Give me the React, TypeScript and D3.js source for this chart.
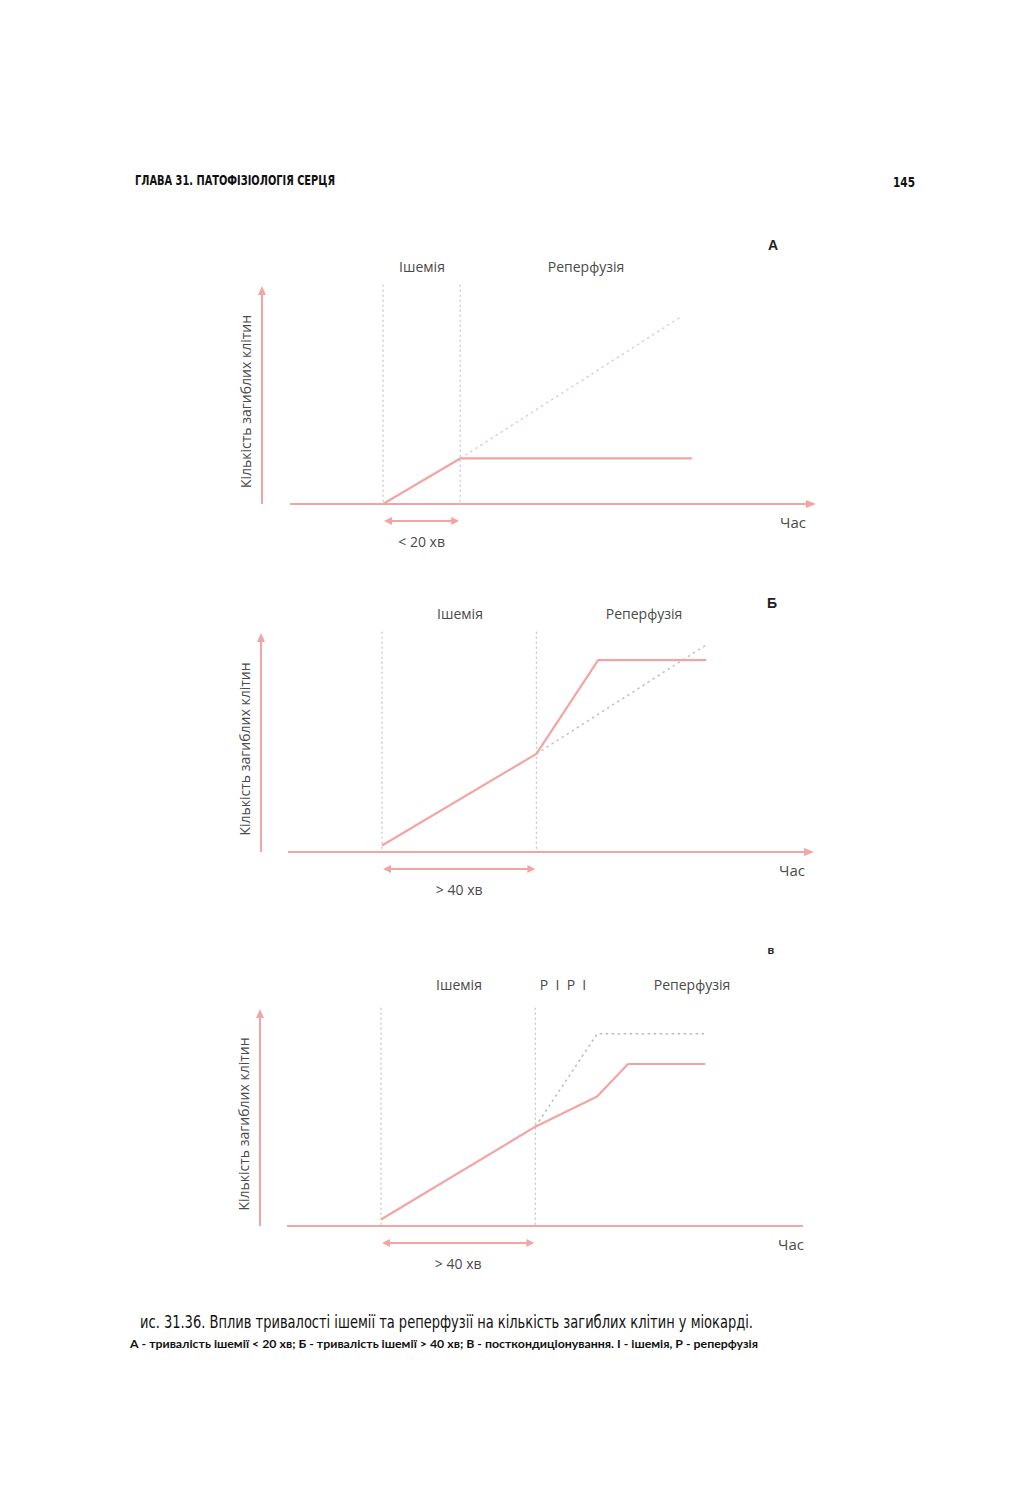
import * as d3 from 'd3'

// minutes of ischemia shown by the double arrow
const ischemiaMin = [20, 40, 40]
const durationLabels = ['< 20 хв', '> 40 хв', '> 40 хв']
const panelLetters = ['А', 'Б', 'в']

// solid curve: dead cells with reperfusion
const timeA = [0, 20, 80]
const deadA = [0, 21, 21]
const timeB = [0, 40, 56, 84]
const deadB = [3, 45, 88, 88]
const timeC = [0, 40, 56, 64, 84]
const deadC = [3, 46, 60, 75, 75]

// dotted curve: course without intervention
const refTimeA = [20, 77]
const refDeadA = [21, 86]
const refTimeB = [40, 84]
const refDeadB = [45, 95]
const refTimeC = [40, 56, 84]
const refDeadC = [46, 89, 89]

const PINK = '#f3a4a4'
const GREY_TXT = '#4a4a4a'
const CHART_FONT = '"Open Sans", "Noto Sans", sans-serif'

type Panel = {
  time: number[]
  dead: number[]
  refTime: number[]
  refDead: number[]
  axisY: number
  topY: number
  axisX0: number
  axisX1: number
  yAxisX: number
  t0X: number
  xArrow: boolean
  chasX: number
  refColor: string
  letterPos: [number, number]
  letterSize: number
  phaseLabels: { text: string; x: number }[]
  phaseY: number
}

const panels: Panel[] = [
  {
    time: timeA, dead: deadA, refTime: refTimeA, refDead: refDeadA,
    axisY: 504, topY: 287, axisX0: 290, axisX1: 815, yAxisX: 262, t0X: 383,
    xArrow: true, chasX: 793, refColor: '#e6cfcf', letterPos: [773, 250], letterSize: 14,
    phaseLabels: [{ text: 'Ішемія', x: 422 }, { text: 'Реперфузія', x: 586 }], phaseY: 272,
  },
  {
    time: timeB, dead: deadB, refTime: refTimeB, refDead: refDeadB,
    axisY: 852, topY: 634, axisX0: 288, axisX1: 813, yAxisX: 261, t0X: 382,
    xArrow: true, chasX: 792, refColor: '#c4c4c4', letterPos: [772, 608], letterSize: 14,
    phaseLabels: [{ text: 'Ішемія', x: 460 }, { text: 'Реперфузія', x: 644 }], phaseY: 619,
  },
  {
    time: timeC, dead: deadC, refTime: refTimeC, refDead: refDeadC,
    axisY: 1226, topY: 1010, axisX0: 287, axisX1: 803, yAxisX: 260, t0X: 381,
    xArrow: false, chasX: 791, refColor: '#bdbdbd', letterPos: [771, 954], letterSize: 11,
    phaseLabels: [{ text: 'Ішемія', x: 459 }, { text: 'P  I  P  I', x: 563 }, { text: 'Реперфузія', x: 692 }], phaseY: 990,
  },
]

function ChartPanel({ p, i }: { p: Panel; i: number }) {
  const x = d3.scaleLinear().domain([0, 100]).range([p.t0X, p.t0X + 386])
  const y = d3.scaleLinear().domain([0, 100]).range([p.axisY, p.topY])
  const line = d3.line<[number, number]>().x(d => x(d[0])).y(d => y(d[1]))
  const solid = line(p.time.map((t, k) => [t, p.dead[k]] as [number, number])) || ''
  const ref = line(p.refTime.map((t, k) => [t, p.refDead[k]] as [number, number])) || ''
  const iEnd = x(ischemiaMin[i])
  const arrowY = p.axisY + 17
  const yMid = (p.axisY + p.topY) / 2 + 6

  return (
    <g>
      <text x={p.letterPos[0]} y={p.letterPos[1]} fontFamily='"Liberation Sans", Arial, sans-serif'
        fontWeight="bold" fontSize={p.letterSize} fill="#222" textAnchor="middle">{panelLetters[i]}</text>
      {p.phaseLabels.map(l => (
        <text key={l.text} x={l.x} y={p.phaseY} fontFamily={CHART_FONT} fontSize={14}
          fill={GREY_TXT} textAnchor="middle" style={{ whiteSpace: 'pre' }}>{l.text}</text>
      ))}
      {/* phase separators */}
      {[x(0), iEnd].map((vx, k) => (
        <line key={k} x1={vx} x2={vx} y1={y(101)} y2={p.axisY} stroke="#c3c3cc"
          strokeWidth={1.2} strokeDasharray="2,3" />
      ))}
      {/* axes */}
      <line x1={p.yAxisX} x2={p.yAxisX} y1={p.axisY} y2={p.topY + 6} stroke={PINK} strokeWidth={2} />
      <path d={`M${p.yAxisX - 4},${p.topY + 8} L${p.yAxisX},${p.topY - 1} L${p.yAxisX + 4},${p.topY + 8} Z`} fill={PINK} />
      <line x1={p.axisX0} x2={p.xArrow ? p.axisX1 - 6 : p.axisX1} y1={p.axisY} y2={p.axisY} stroke={PINK} strokeWidth={2.2} />
      {p.xArrow && (
        <path d={`M${p.axisX1 - 9},${p.axisY - 4} L${p.axisX1 + 1},${p.axisY} L${p.axisX1 - 9},${p.axisY + 4} Z`} fill={PINK} />
      )}
      <text x={p.chasX} y={p.axisY + 24} fontFamily={CHART_FONT} fontSize={15}
        fill={GREY_TXT} textAnchor="middle">Час</text>
      <text transform={`translate(${p.yAxisX - 11},${yMid}) rotate(-90)`} fontFamily={CHART_FONT}
        fontSize={14} fill={GREY_TXT} textAnchor="middle">Кількість загиблих клітин</text>
      {/* curves */}
      <path d={ref} fill="none" stroke={p.refColor} strokeWidth={1.6} strokeDasharray="2.5,3.5" />
      <path d={solid} fill="none" stroke={PINK} strokeWidth={2.2} strokeLinejoin="round" />
      {/* duration arrow */}
      <line x1={x(0) + 6} x2={iEnd - 6} y1={arrowY} y2={arrowY} stroke={PINK} strokeWidth={2.2} />
      <path d={`M${x(0) + 9},${arrowY - 4} L${x(0) + 1},${arrowY} L${x(0) + 9},${arrowY + 4} Z`} fill={PINK} />
      <path d={`M${iEnd - 9},${arrowY - 4} L${iEnd - 1},${arrowY} L${iEnd - 9},${arrowY + 4} Z`} fill={PINK} />
      <text x={(x(0) + iEnd) / 2} y={arrowY + 26} fontFamily={CHART_FONT} fontSize={14}
        fill={GREY_TXT} textAnchor="middle">{durationLabels[i]}</text>
    </g>
  )
}

export default function App() {
  return (
    <svg width={1031} height={1500} style={{ position: 'absolute', left: 0, top: 0, background: '#fff' }}>
      <text x={135} y={185} fontFamily='"Liberation Sans Narrow", "DejaVu Sans Condensed", sans-serif'
        fontWeight="bold" fontSize={14} fill="#111" textLength={200} lengthAdjust="spacingAndGlyphs">
        ГЛАВА 31. ПАТОФІЗІОЛОГІЯ СЕРЦЯ
      </text>
      <text x={893} y={187} fontFamily='"Liberation Sans Narrow", "DejaVu Sans Condensed", sans-serif'
        fontWeight="bold" fontSize={14} fill="#111" textLength={22} lengthAdjust="spacingAndGlyphs">145</text>
      {panels.map((p, i) => <ChartPanel key={i} p={p} i={i} />)}
      <text x={140} y={1328} fontFamily='"Liberation Sans Narrow", "DejaVu Sans Condensed", sans-serif'
        fontSize={17} fill="#111" textLength={613} lengthAdjust="spacingAndGlyphs">
        ис. 31.36. Вплив тривалості ішемії та реперфузії на кількість загиблих клітин у міокарді.
      </text>
      <text x={130} y={1348} fontFamily='Lato, "Open Sans", sans-serif' fontWeight="bold"
        fontSize={11} fill="#111" textLength={628} lengthAdjust="spacingAndGlyphs">
        А - тривалість ішемії &lt; 20 хв; Б - тривалість ішемії &gt; 40 хв; В - посткондиціонування. І - ішемія, Р - реперфузія
      </text>
    </svg>
  )
}
